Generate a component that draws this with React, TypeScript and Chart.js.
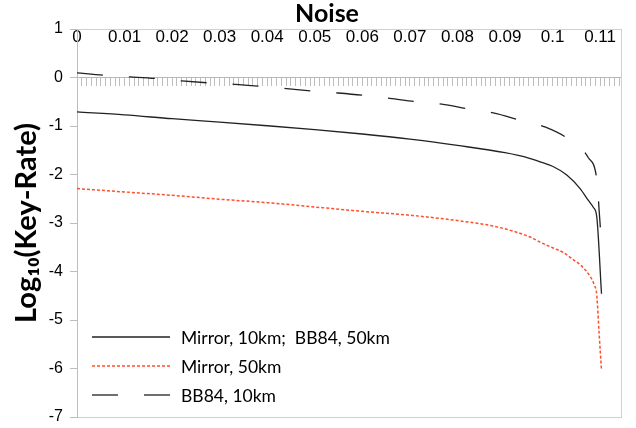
import React, { useEffect, useRef } from 'react';
import { Chart, registerables } from 'chart.js';

Chart.register(...registerables);

// ---- data ----
const X_MIN = 0;
const X_MAX = 0.1144;
const X_MAJOR_STEP = 0.01;
const X_MINOR_STEP = 0.001;
const Y_MIN = -7;
const Y_MAX = 1;

const seriesLabels = ['Mirror, 10km;  BB84, 50km', 'Mirror, 50km', 'BB84, 10km'];

const mirror10Noise = [0, 0.01, 0.02, 0.03, 0.04, 0.05, 0.06, 0.07, 0.08, 0.09, 0.095, 0.0974, 0.1, 0.103, 0.1058, 0.1075, 0.1086, 0.1093, 0.1103];
const mirror10Log = [-0.71, -0.77, -0.85, -0.92, -0.995, -1.075, -1.165, -1.27, -1.4, -1.55, -1.66, -1.74, -1.83, -2.01, -2.29, -2.53, -2.68, -2.87, -4.46];

const mirror50Noise = [0, 0.01, 0.02, 0.03, 0.04, 0.05, 0.06, 0.07, 0.08, 0.0883, 0.0953, 0.0977, 0.1, 0.1023, 0.1044, 0.1058, 0.1079, 0.1088, 0.1093, 0.1098, 0.1103];
const mirror50Log = [-2.29, -2.36, -2.43, -2.51, -2.58, -2.67, -2.76, -2.84, -2.95, -3.08, -3.29, -3.41, -3.51, -3.61, -3.76, -3.86, -4.1, -4.28, -4.48, -5.28, -6.04];

const bb84Noise = [0, 0.0055, 0.0111, 0.0164, 0.022, 0.0276, 0.0332, 0.0384, 0.0441, 0.0495, 0.0549, 0.0605, 0.0658, 0.0714, 0.0767, 0.0823, 0.0875, 0.0932, 0.0984, 0.1035, 0.1075, 0.1094, 0.1098, 0.1102];
const bb84Log = [0.095, 0.047, 0.013, -0.02, -0.07, -0.11, -0.14, -0.18, -0.23, -0.28, -0.32, -0.37, -0.43, -0.5, -0.55, -0.65, -0.73, -0.88, -1.02, -1.28, -1.65, -2.17, -2.74, -3.29];

const toPoints = (xs: number[], ys: number[]) => xs.map((x, i) => ({ x, y: ys[i] }));

const insideLegend = {
  id: 'insideLegend',
  afterDatasetsDraw(chart: any) {
    const { ctx, chartArea } = chart;
    const ds = chart.data.datasets;
    const n = ds.length;
    ctx.save();
    ctx.font = '17.5px Lato';
    ctx.textBaseline = 'middle';
    ctx.textAlign = 'left';
    ds.forEach((d: any, i: number) => {
      const y = chartArea.bottom - 22 - 29 * (n - 1 - i);
      const x0 = chartArea.left + 15;
      const x1 = x0 + 78;
      ctx.beginPath();
      ctx.setLineDash(d.borderDash || []);
      ctx.lineDashOffset = 0;
      ctx.strokeStyle = d.borderColor;
      ctx.lineWidth = d.borderWidth;
      ctx.moveTo(x0, y);
      ctx.lineTo(x1, y);
      ctx.stroke();
      ctx.setLineDash([]);
      ctx.fillStyle = '#000';
      ctx.fillText(d.label, x1 + 11, y + 1);
    });
    ctx.restore();
  },
};

export default function App() {
  const ref = useRef<HTMLCanvasElement>(null);

  useEffect(() => {
    if (!ref.current) return;
    const tickFont = { family: '"Liberation Sans", Arial, sans-serif', size: 16 };
    const xTickFont = { family: '"Liberation Sans", Arial, sans-serif', size: 17 };
    const chart = new Chart(ref.current, {
      type: 'line',
      data: {
        datasets: [
          {
            label: seriesLabels[0],
            data: toPoints(mirror10Noise, mirror10Log),
            borderColor: '#222222',
            borderWidth: 1.3,
            pointRadius: 0,
            cubicInterpolationMode: 'monotone',
            xAxisID: 'x',
            yAxisID: 'y',
          },
          {
            label: seriesLabels[1],
            data: toPoints(mirror50Noise, mirror50Log),
            borderColor: '#ff4f2b',
            borderWidth: 1.5,
            borderDash: [3, 2],
            pointRadius: 0,
            cubicInterpolationMode: 'monotone',
            xAxisID: 'x',
            yAxisID: 'y',
          },
          {
            label: seriesLabels[2],
            data: toPoints(bb84Noise, bb84Log),
            borderColor: '#222222',
            borderWidth: 1.3,
            borderDash: [26, 26],
            pointRadius: 0,
            cubicInterpolationMode: 'monotone',
            xAxisID: 'x',
            yAxisID: 'y',
          },
        ],
      },
      options: {
        animation: false,
        responsive: false,
        devicePixelRatio: 1,
        layout: { padding: { left: 18, right: 0, top: 0, bottom: 0 } },
        plugins: {
          legend: { display: false },
          tooltip: { enabled: false },
          title: {
            display: true,
            text: 'Noise',
            color: '#000',
            padding: 0,
            font: { family: 'Lato', weight: 'bold', size: 25, lineHeight: 1.08 },
          },
        },
        scales: {
          x: {
            type: 'linear',
            axis: 'x',
            position: 'top',
            min: X_MIN,
            max: X_MAX,
            grid: { display: false, drawTicks: false },
            border: { display: true, color: '#d0d0d0', width: 1 },
            ticks: {
              stepSize: X_MAJOR_STEP,
              includeBounds: false,
              autoSkip: false,
              maxRotation: 0,
              minRotation: 0,
              mirror: true,
              padding: -1.5,
              color: '#000',
              font: xTickFont,
              callback: (v: any) => String(Number(Number(v).toFixed(2))),
            },
            afterFit: (s: any) => {
              s.height = 2;
              s.paddingTop = 0;
              s.paddingBottom = 0;
            },
          },
          xZero: {
            type: 'linear',
            axis: 'x',
            position: { y: 0 },
            min: X_MIN,
            max: X_MAX,
            grid: { display: true, drawOnChartArea: false, drawTicks: true, tickLength: 8, color: '#bdbdbd' },
            border: { display: true, color: '#b8b8b8', width: 1 },
            ticks: { display: false, stepSize: X_MINOR_STEP, includeBounds: false, autoSkip: false },
          },
          xBottom: {
            type: 'linear',
            axis: 'x',
            position: 'bottom',
            min: X_MIN,
            max: X_MAX,
            grid: { display: false, drawTicks: false },
            border: { display: true, color: '#d0d0d0', width: 1 },
            ticks: { display: false },
            afterFit: (s: any) => {
              s.height = 11;
            },
          },
          y: {
            type: 'linear',
            axis: 'y',
            position: 'left',
            min: Y_MIN,
            max: Y_MAX,
            grid: { display: true, drawOnChartArea: false, drawTicks: true, tickLength: 7, color: '#bdbdbd' },
            border: { display: true, color: '#bdbdbd', width: 1 },
            ticks: { stepSize: 1, padding: 7, color: '#000', font: tickFont },
            title: {
              display: true,
              text: 'Log₁₀(Key-Rate)',
              color: '#000',
              padding: 0,
              font: { family: 'Lato', weight: 'bold', size: 29, lineHeight: 0.62 },
            },
            afterFit: (s: any) => {
              s.width = 59;
              s.paddingTop = 0;
              s.paddingBottom = 0;
            },
          },
          yRight: {
            type: 'linear',
            axis: 'y',
            position: 'right',
            min: Y_MIN,
            max: Y_MAX,
            grid: { display: false, drawTicks: false },
            border: { display: true, color: '#d0d0d0', width: 1 },
            ticks: { display: false },
            afterFit: (s: any) => {
              s.width = 15;
            },
          },
        },
      } as any,
      plugins: [insideLegend],
    });
    return () => chart.destroy();
  }, []);

  return (
    <div style={{ position: 'fixed', left: 0, top: 0, width: 636, height: 428, background: '#fff' }}>
      <canvas ref={ref} width={636} height={428} style={{ display: 'block' }} />
    </div>
  );
}
